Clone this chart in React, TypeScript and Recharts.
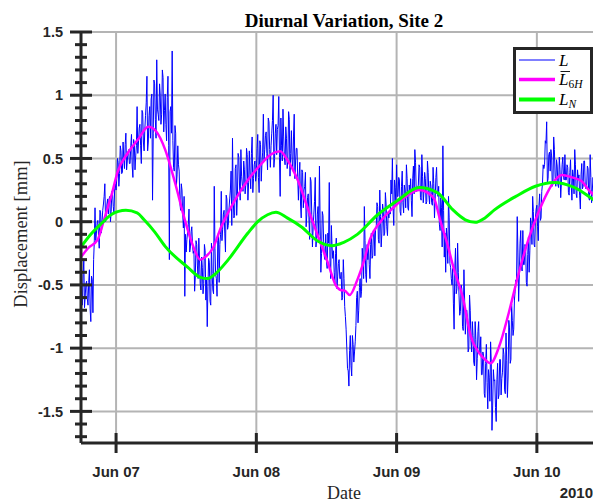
import React from 'react';
import { LineChart, Line, XAxis, YAxis, CartesianGrid } from 'recharts';

// Time axis: days counted from Jun 06 2010 00:00 (1 = Jun 07, 2 = Jun 08, ...)
const X_DOMAIN: [number, number] = [0.75, 4.5];
const Y_DOMAIN: [number, number] = [-1.75, 1.5];

const xTicks = [1, 2, 3, 4];
const xTickLabels = ['Jun 07', 'Jun 08', 'Jun 09', 'Jun 10'];
const yMajorTicks = [-1.5, -1, -0.5, 0, 0.5, 1, 1.5];
const yAllTicks = [
  -1.7, -1.6, -1.5, -1.4, -1.3, -1.2, -1.1, -1, -0.9, -0.8, -0.7, -0.6, -0.5, -0.4, -0.3, -0.2, -0.1, 0,
  0.1, 0.2, 0.3, 0.4, 0.5, 0.6, 0.7, 0.8, 0.9, 1, 1.1, 1.2, 1.3, 1.4, 1.5,
];

// Raw displacement L [mm], one sample every 0.005 day from Jun 06 18:00.
// The "a" arrays hold the samples on each 0.01-day mark, the "b" arrays the
// samples half a step later.
const L_START = 0.75;
const L_STEP = 0.005;
const lJun06a = [
  -0.40, -0.66, -0.30, -0.59, -0.47, -0.66, -0.38, -0.79, -0.46, -0.30,
  0.11, -0.09, 0.01, -0.21, 0.07, 0.00, 0.14, 0.30, 0.04, 0.18,
  0.18, 0.00, 0.24, 0.12, 0.26,
];
const lJun06b = [
  -0.56, -0.42, -0.68, -0.49, -0.61, -0.48, -0.69, -0.43, -0.72, -0.15,
  -0.15, -0.01, -0.11, 0.09, -0.09, 0.09, 0.20, 0.00, 0.14, 0.06,
  0.20, 0.08, 0.23, 0.06, 0.30,
];
const lJun07a = [
  0.25, 0.50, 0.28, 0.60, 0.38, 0.63, 0.42, 0.70, 0.48, 0.57,
  0.46, 0.69, 0.35, 0.62, 0.52, 0.91, 0.63, 0.77, 0.46, 0.86,
  0.56, 0.84, 1.15, 0.63, 0.91, 0.97, 0.17, 1.12, 0.81, 1.28,
  0.85, 1.09, 0.77, 1.20, 0.71, 1.01, 0.64, 1.15, -0.30, 0.91,
  1.35, 0.43, 0.76, 0.28, 0.60, 0.40, 0.09, 0.25, -0.05, -0.59,
  -0.24, -0.08, 0.10, -0.20, -0.04, -0.25, -0.55, -0.15, -0.35, -0.13,
  -0.49, -0.28, -0.57, -0.18, -0.62, -0.83, -0.29, -0.63, -0.17, -0.54,
  0.28, -0.42, -0.59, -0.09, -0.18, 0.24, -0.06, 0.09, -0.24, 0.18,
  -0.03, 0.18, 0.40, 0.66, 0.03, 0.42, 0.05, 0.54, 0.29, 0.57,
  0.29, 0.48, 0.22, 0.58, 0.17, 0.56, 0.26, 0.67, 0.34, 0.48,
];
const lJun07b = [
  0.34, 0.47, 0.38, 0.56, 0.39, 0.50, 0.61, 0.41, 0.55, 0.46,
  0.60, 0.44, 0.65, 0.41, 0.60, 0.54, 0.74, 0.60, 0.88, 0.63,
  0.73, 0.94, 0.56, 0.84, 0.66, 1.01, 0.70, 1.09, 0.66, 0.89,
  0.80, 1.00, 0.85, 1.14, 0.88, 0.77, 0.98, 0.60, 0.87, 0.70,
  0.64, 0.40, 0.70, 0.37, 0.45, 0.15, 0.30, 0.06, 0.20, -0.10,
  -0.14, -0.02, -0.24, -0.08, -0.18, -0.23, -0.43, -0.18, -0.45, -0.30,
  -0.54, -0.36, -0.49, -0.23, -0.46, -0.51, -0.32, -0.66, -0.41, -0.57,
  -0.21, -0.45, -0.15, -0.48, -0.10, -0.15, 0.06, -0.09, 0.21, -0.06,
  0.10, 0.25, -0.03, 0.18, 0.05, 0.45, 0.20, 0.51, 0.17, 0.36,
  0.24, 0.41, 0.29, 0.53, 0.31, 0.37, 0.54, 0.23, 0.45, 0.32,
];
const lJun08a = [
  0.37, 0.69, 0.23, 0.61, 0.46, 0.85, 0.57, 0.71, 0.41, 0.79,
  0.43, 0.70, 1.00, 0.50, 0.77, 0.73, 0.99, 0.20, 0.60, 0.89,
  0.51, 0.75, 0.42, 0.87, 0.36, 0.72, 0.40, 0.85, 0.48, 0.58,
  0.17, 0.47, 0.03, 0.39, 0.25, 0.39, 0.06, 0.22, -0.14, 0.32,
  -0.20, 0.06, 0.35, -0.14, 0.12, 0.44, -0.40, 0.08, -0.16, -0.30,
  -0.31, -0.09, 0.31, -0.45, -0.20, -0.23, -0.50, -0.13, -0.43, -0.30,
  -0.45, -0.62, -0.30, -0.67, -0.85, -1.16, -1.30, -0.90, -1.22, -0.97,
  -1.03, -0.82, -0.55, -0.70, -0.45, -0.55, -0.30, 0.12, -0.42, -0.18,
  -0.18, -0.45, -0.09, -0.27, -0.07, -0.06, 0.15, -0.14, 0.25, -0.20,
  0.14, -0.11, 0.23, -0.04, 0.07, 0.09, 0.33, 0.50, -0.03, 0.27,
];
const lJun08b = [
  0.58, 0.35, 0.64, 0.32, 0.55, 0.49, 0.68, 0.54, 0.82, 0.57,
  0.60, 0.80, 0.43, 0.70, 0.53, 0.76, 0.51, 0.82, 0.48, 0.67,
  0.45, 0.66, 0.51, 0.81, 0.54, 0.49, 0.67, 0.34, 0.58, 0.35,
  0.36, 0.14, 0.41, 0.11, 0.28, -0.04, 0.19, 0.03, 0.35, 0.06,
  -0.04, 0.16, -0.20, 0.06, -0.11, -0.01, -0.25, 0.05, -0.28, -0.10,
  -0.37, -0.17, -0.31, -0.03, -0.29, -0.40, -0.25, -0.53, -0.33, -0.45,
  -0.40, -0.60, -0.45, -0.75, -1.00, -1.18, -1.02, -1.14, -0.90, -1.11,
  -0.95, -0.60, -0.80, -0.52, -0.60, -0.21, -0.45, -0.15, -0.48, -0.30,
  -0.34, -0.18, -0.29, -0.07, -0.27, -0.04, 0.12, -0.17, 0.04, -0.09,
  0.09, -0.09, 0.14, -0.11, 0.03, 0.06, 0.22, 0.11, 0.33, 0.13,
];
const lJun09a = [
  0.45, 0.20, 0.33, 0.05, 0.40, 0.07, 0.25, 0.45, 0.11, 0.29,
  0.34, 0.04, 0.44, 0.57, 0.24, 0.27, 0.45, 0.19, 0.53, 0.15,
  0.39, 0.14, 0.48, 0.21, 0.32, 0.15, 0.43, 0.03, 0.35, 0.23,
  0.28, -0.07, 0.11, 0.60, -0.28, -0.40, -0.12, 0.20, -0.33, -0.45,
  -0.37, -0.85, -0.21, -0.53, -0.40, -0.74, -0.50, -0.83, -0.38, -0.89,
  -0.70, -1.03, -0.58, -0.94, -0.79, -1.11, -0.79, -1.25, -0.87, -1.02,
  -0.91, -1.21, -1.06, -1.39, -0.97, -1.48, -1.23, -0.95, -1.65, -1.17,
  -1.25, -1.58, -1.12, -1.37, -1.09, -1.24, -1.00, -1.33, -0.88, -1.39,
  -0.78, -1.12, -0.65, -0.90, -0.62, -0.46, 0.04, -0.63, -0.17, -0.35,
  -0.07, -0.34, -0.20, -0.51, -0.12, -0.23, -0.03, 0.20, -0.18, 0.03,
];
const lJun09b = [
  0.20, 0.35, 0.08, 0.28, 0.15, 0.29, 0.11, 0.34, 0.09, 0.23,
  0.17, 0.34, 0.22, 0.47, 0.24, 0.29, 0.43, 0.17, 0.36, 0.24,
  0.34, 0.16, 0.39, 0.14, 0.28, 0.13, 0.30, 0.18, 0.43, 0.20,
  -0.02, 0.19, -0.20, 0.09, -0.09, -0.05, -0.33, 0.03, -0.36, -0.50,
  -0.65, -0.37, -0.57, -0.17, -0.58, -0.71, -0.53, -0.86, -0.62, -0.77,
  -0.76, -1.00, -0.70, -1.03, -0.90, -1.14, -0.93, -1.08, -0.79, -1.05,
  -1.21, -1.03, -1.36, -1.12, -1.27, -1.17, -1.42, -1.11, -1.45, -1.26,
  -1.47, -1.25, -1.40, -1.09, -1.37, -1.19, -1.05, -1.36, -1.10, -1.22,
  -0.84, -1.09, -0.78, -0.85, -0.55, -0.49, -0.24, -0.42, -0.07, -0.39,
  -0.34, -0.18, -0.48, -0.26, -0.40, 0.03, -0.18, 0.08, -0.20, 0.10,
];
const lJun10a = [
  0.13, -0.15, 0.22, 0.03, 0.30, 0.42, 0.64, 0.79, 0.34, 0.55,
  0.57, 0.28, 0.67, 0.36, 0.49, 0.29, 0.51, 0.19, 0.45, 0.35,
  0.53, 0.33, 0.43, 0.21, 0.49, 0.17, 0.36, 0.57, 0.22, 0.41,
  0.37, 0.10, 0.46, 0.28, 0.48, 0.26, 0.44, 0.19, 0.53, 0.15,
  0.35, 0.02, 0.47, 0.11, 0.26, 0.03, 0.35, -0.12, 0.26, 0.12,
  0.05,
];
const lJun10b = [
  -0.04, 0.13, 0.01, 0.24, 0.45, 0.45, 0.62, 0.31, 0.53, 0.40,
  0.52, 0.30, 0.57, 0.28, 0.44, 0.27, 0.41, 0.31, 0.51, 0.33,
  0.33, 0.45, 0.23, 0.39, 0.29, 0.41, 0.22, 0.45, 0.19, 0.34,
  0.21, 0.37, 0.26, 0.48, 0.28, 0.28, 0.42, 0.17, 0.35, 0.24,
  0.29, 0.05, 0.35, 0.02, 0.20, 0.00, 0.20, 0.06, 0.35, 0.09,
];

// 6-hour moving average of L
const l6hTimes = [
  0.75, 0.80, 0.87, 0.91, 0.943, 0.97, 1.01, 1.085, 1.156, 1.23, 1.285, 1.35, 1.42, 1.49, 1.55, 1.60,
  1.64, 1.69, 1.75, 1.85, 1.94, 2.03, 2.10, 2.17, 2.22, 2.295, 2.37, 2.44, 2.51, 2.565, 2.60, 2.63,
  2.665, 2.72, 2.77, 2.81, 2.885, 2.985, 3.08, 3.16, 3.22, 3.27, 3.31, 3.36, 3.41, 3.47, 3.53, 3.59,
  3.63, 3.67, 3.73, 3.80, 3.87, 3.94, 4.01, 4.075, 4.13, 4.18, 4.25, 4.32, 4.37, 4.45, 4.50,
];
const l6hValues = [
  -0.28, -0.21, -0.14, 0.0, 0.12, 0.22, 0.39, 0.545, 0.65, 0.75, 0.715, 0.57, 0.31, 0.015, -0.195, -0.30,
  -0.275, -0.21, -0.04, 0.175, 0.33, 0.45, 0.53, 0.557, 0.49, 0.33, 0.095, -0.115, -0.325, -0.50, -0.54, -0.545,
  -0.58, -0.46, -0.30, -0.14, 0.0, 0.12, 0.21, 0.25, 0.23, 0.175, 0.015, -0.17, -0.38, -0.59, -0.91, -1.04,
  -1.09, -1.12, -0.99, -0.72, -0.41, -0.14, 0.07, 0.23, 0.33, 0.37, 0.35, 0.32, 0.25, 0.17, 0.13,
];

// Diurnal component L_N
const lnTimes = [
  0.75, 0.82, 0.90, 0.964, 1.07, 1.15, 1.20, 1.275, 1.35, 1.51, 1.60, 1.655, 1.70, 1.80, 1.94, 2.01,
  2.08, 2.14, 2.22, 2.32, 2.44, 2.54, 2.62, 2.72, 2.865, 3.01, 3.16, 3.29, 3.40, 3.49, 3.56, 3.63,
  3.70, 3.85, 3.99, 4.12, 4.27, 4.44, 4.50,
];
const lnValues = [
  -0.20, -0.10, -0.01, 0.055, 0.09, 0.07, 0.015, -0.08, -0.195, -0.36, -0.44, -0.45, -0.42, -0.30, -0.09, 0.0,
  0.055, 0.074, 0.03, -0.04, -0.155, -0.19, -0.165, -0.10, 0.055, 0.17, 0.27, 0.23, 0.095, 0.015, -0.005, 0.03,
  0.095, 0.2, 0.28, 0.31, 0.27, 0.15, 0.12,
];

const interleave = (a: number[], b: number[]) =>
  a.flatMap((v, i) => (i < b.length ? [v, b[i]] : [v]));

const lSeries = [
  ...interleave(lJun06a, lJun06b),
  ...interleave(lJun07a, lJun07b),
  ...interleave(lJun08a, lJun08b),
  ...interleave(lJun09a, lJun09b),
  ...interleave(lJun10a, lJun10b),
];
const lData = lSeries.map((v, i) => ({
  t: Math.round((L_START + i * L_STEP) * 10000) / 10000,
  v,
}));
const l6hData = l6hTimes.map((t, i) => ({ t, v: l6hValues[i] }));
const lnData = lnTimes.map((t, i) => ({ t, v: lnValues[i] }));

const SERIF = '"Liberation Serif", "Times New Roman", Times, serif';
const SANS = '"Liberation Sans", Arial, Helvetica, sans-serif';
const AXIS_COLOR = '#262626';
const GRID_COLOR = '#b4b4b4';
const BLUE = '#0000ff';
const MAGENTA = '#ff00ff';
const GREEN = '#00ff00';

const isMajor = (v: number) => Math.abs(v * 2 - Math.round(v * 2)) < 1e-6;

function YTick(props: any) {
  const { x, y, payload } = props;
  const v = payload.value as number;
  const major = isMajor(v);
  const half = major ? 11 : 6;
  return (
    <g>
      <line x1={x - half} x2={x + half} y1={y} y2={y} stroke={AXIS_COLOR} strokeWidth={3} />
      {major && (
        <text
          x={x - 18}
          y={y}
          dy="0.36em"
          textAnchor="end"
          fontFamily={SANS}
          fontWeight="bold"
          fontSize={14.5}
          fill={AXIS_COLOR}
        >
          {String(v)}
        </text>
      )}
    </g>
  );
}

function XTick(props: any) {
  const { x, y, payload } = props;
  const idx = xTicks.indexOf(payload.value);
  return (
    <g>
      <line x1={x} x2={x} y1={y - 10} y2={y + 10} stroke={AXIS_COLOR} strokeWidth={3} />
      <text
        x={x}
        y={y + 34}
        textAnchor="middle"
        fontFamily={SANS}
        fontWeight="bold"
        fontSize={15}
        fill={AXIS_COLOR}
      >
        {idx >= 0 ? xTickLabels[idx] : ''}
      </text>
    </g>
  );
}

function LegendBox() {
  const rows = [
    { color: BLUE, width: 1.2 },
    { color: MAGENTA, width: 3.5 },
    { color: GREEN, width: 4 },
  ];
  const rowY = [10, 29.5, 49.5];
  return (
    <div
      style={{
        position: 'absolute',
        left: 505,
        top: 39,
        width: 80,
        height: 67,
        boxSizing: 'border-box',
        border: `3px solid ${AXIS_COLOR}`,
        background: '#fff',
      }}
    >
      <svg width={74} height={61} style={{ display: 'block' }}>
        {rows.map((r, i) => (
          <line key={i} x1={3} x2={39} y1={rowY[i]} y2={rowY[i]} stroke={r.color} strokeWidth={r.width} />
        ))}
        <text x={43} y={rowY[0] + 5.5} fontFamily={SERIF} fontStyle="italic" fontSize={17} fill="#000">
          L
        </text>
        <line x1={44.5} x2={54} y1={rowY[1] - 8} y2={rowY[1] - 8} stroke="#000" strokeWidth={0.9} />
        <text x={43} y={rowY[1] + 5.5} fontFamily={SERIF} fontSize={17} fill="#000">
          <tspan fontStyle="italic">L</tspan>
          <tspan fontSize={11.5} dy={3}>6</tspan>
          <tspan fontSize={11.5} fontStyle="italic">H</tspan>
        </text>
        <text x={43} y={rowY[2] + 5.5} fontFamily={SERIF} fontStyle="italic" fontSize={17} fill="#000">
          L<tspan fontSize={11.5} dy={3}>N</tspan>
        </text>
      </svg>
    </div>
  );
}

function TextOverlay() {
  return (
    <svg
      width={593}
      height={494}
      style={{ position: 'absolute', left: 0, top: 0, pointerEvents: 'none' }}
    >
      <text x={336} y={19} textAnchor="middle" fontFamily={SERIF} fontWeight="bold" fontSize={19} fill="#000">
        Diurnal Variation, Site 2
      </text>
      <text
        x={19}
        y={226}
        transform="rotate(-90, 19, 226)"
        textAnchor="middle"
        fontFamily={SERIF}
        fontSize={18.5}
        fill={AXIS_COLOR}
      >
        Displacement [mm]
      </text>
      <text x={336} y={491} textAnchor="middle" fontFamily={SERIF} fontSize={18} fill={AXIS_COLOR}>
        Date
      </text>
      <text x={585} y={490} textAnchor="end" fontFamily={SANS} fontWeight="bold" fontSize={15} fill={AXIS_COLOR}>
        2010
      </text>
    </svg>
  );
}

export default function App() {
  return (
    <div style={{ position: 'relative', width: 593, height: 494, overflow: 'hidden', background: '#fff' }}>
      <LineChart width={610} height={494} margin={{ top: 24, right: 11, bottom: 0, left: 0 }}>
        <CartesianGrid
          horizontalValues={yMajorTicks}
          verticalValues={xTicks}
          stroke={GRID_COLOR}
          strokeWidth={2}
        />
        <XAxis
          dataKey="t"
          type="number"
          domain={X_DOMAIN}
          allowDataOverflow
          ticks={xTicks}
          interval={0}
          height={59}
          tickSize={0}
          tickMargin={0}
          tickLine={false}
          axisLine={{ stroke: AXIS_COLOR, strokeWidth: 3 }}
          tick={<XTick />}
        />
        <YAxis
          type="number"
          domain={Y_DOMAIN}
          allowDataOverflow
          ticks={yAllTicks}
          interval={0}
          width={73}
          tickSize={0}
          tickMargin={0}
          tickLine={false}
          axisLine={{ stroke: AXIS_COLOR, strokeWidth: 3 }}
          tick={<YTick />}
        />
        <Line
          data={lData}
          dataKey="v"
          type="linear"
          stroke={BLUE}
          strokeWidth={1}
          dot={false}
          activeDot={false}
          isAnimationActive={false}
        />
        <Line
          data={l6hData}
          dataKey="v"
          type="monotone"
          stroke={MAGENTA}
          strokeWidth={2.5}
          dot={false}
          activeDot={false}
          isAnimationActive={false}
        />
        <Line
          data={lnData}
          dataKey="v"
          type="monotone"
          stroke={GREEN}
          strokeWidth={3}
          dot={false}
          activeDot={false}
          isAnimationActive={false}
        />
      </LineChart>
      <TextOverlay />
      <LegendBox />
    </div>
  );
}
